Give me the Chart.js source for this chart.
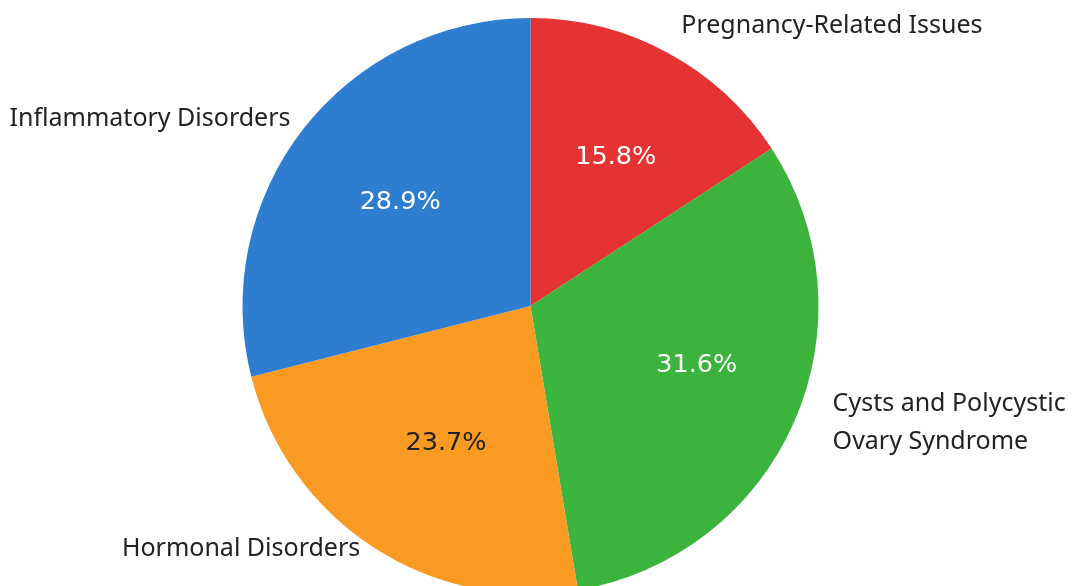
<!DOCTYPE html>
<html>
<head>
<meta charset="utf-8">
<script src="https://cdn.jsdelivr.net/npm/chart.js@4"></script>
<style>
    html, body { margin: 0; padding: 0; background: #ffffff; overflow: hidden; }
    #wrap { position: relative; width: 1083px; height: 612px; }
</style>
</head>
<body>
<div id="wrap"><canvas id="pie-chart"></canvas></div>
<script>
const categories = [
    "Pregnancy-Related Issues",
    ["Cysts and Polycystic", "Ovary Syndrome"],
    "Hormonal Disorders",
    "Inflammatory Disorders",
];
const counts = [6, 12, 9, 11];
const sliceColors = ["#e53232", "#3bb33d", "#f99a22", "#2e7dd0"];
const pctColors = ["#ffffff", "#ffffff", "#222222", "#ffffff"];

// small nudges so the texts sit where the original put them
const nameNudge = [[0, -2], [12, -10], [3, -22], [10, 7]];
const pctNudge = [[3, 3], [8, -10], [10, -7], [6, 3]];

const sliceLabels = {
    id: "sliceLabels",
    afterDraw(chart) {
        const ctx = chart.ctx;
        const meta = chart.getDatasetMeta(0);
        const total = counts.reduce((sum, v) => sum + v, 0);
        ctx.save();
        meta.data.forEach((arc, i) => {
            const p = arc.getProps(["x", "y", "startAngle", "endAngle", "outerRadius"], true);
            const mid = (p.startAngle + p.endAngle) / 2;
            const cos = Math.cos(mid);
            const sin = Math.sin(mid);

            // percentage inside the slice
            ctx.font = "25.5px 'DejaVu Sans'";
            ctx.fillStyle = pctColors[i];
            ctx.textAlign = "center";
            ctx.textBaseline = "middle";
            const pct = ((counts[i] / total) * 100).toFixed(1) + "%";
            ctx.fillText(
                pct,
                p.x + cos * p.outerRadius * 0.6 + pctNudge[i][0],
                p.y + sin * p.outerRadius * 0.6 + pctNudge[i][1]
            );

            // category name outside
            ctx.font = "25px 'Noto Sans'";
            ctx.fillStyle = "#222222";
            ctx.textAlign = cos > 0 ? "left" : "right";
            const lx = p.x + cos * p.outerRadius * 1.1 + nameNudge[i][0];
            const ly = p.y + sin * p.outerRadius * 1.1 + nameNudge[i][1];
            const lines = Array.isArray(categories[i]) ? categories[i] : [categories[i]];
            const lh = 38;
            lines.forEach((line, j) => {
                ctx.fillText(line, lx, ly + (j - (lines.length - 1) / 2) * lh);
            });
        });
        ctx.restore();
    },
};

new Chart(document.querySelector("#pie-chart"), {
    type: "pie",
    data: {
        labels: categories,
        datasets: [
            {
                data: counts,
                backgroundColor: sliceColors,
                borderWidth: 0,
            },
        ],
    },
    options: {
        responsive: true,
        maintainAspectRatio: false,
        animation: false,
        layout: {
            padding: { top: 18, bottom: 18, left: 0, right: 22 },
        },
        plugins: {
            legend: { display: false },
            tooltip: { enabled: false },
        },
    },
    plugins: [sliceLabels],
});
</script>
</body>
</html>
